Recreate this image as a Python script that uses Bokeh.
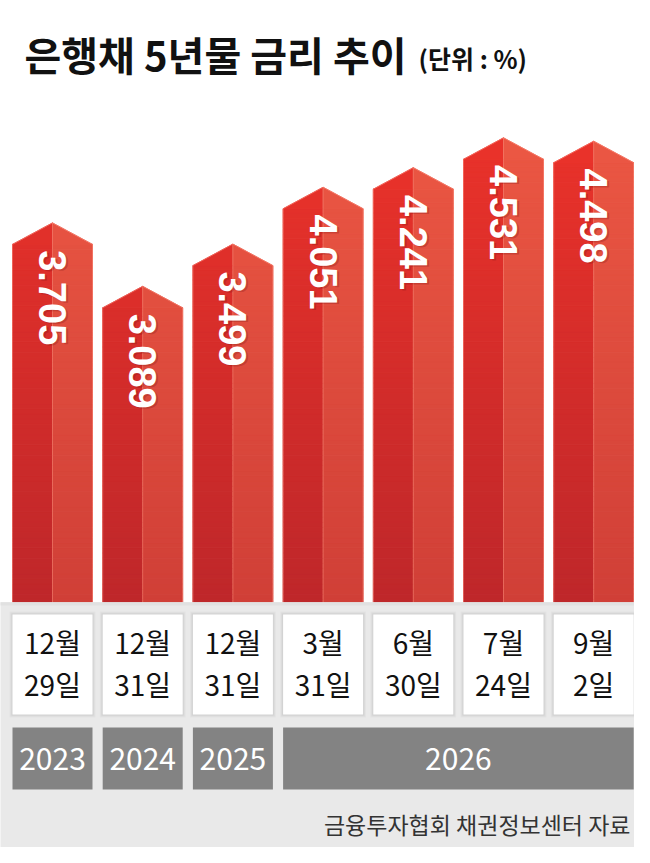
import math
from bokeh.plotting import figure
from bokeh.models import Range1d, ColumnDataSource
from bokeh.embed import file_html
from bokeh.resources import INLINE
from bokeh.core.properties import value

# ---------------- data ----------------
values = [3.705, 3.089, 3.499, 4.051, 4.241, 4.531, 4.498]
value_labels = ["3.705", "3.089", "3.499", "4.051", "4.241", "4.531", "4.498"]
months = ["12월", "12월", "12월", "3월", "6월", "7월", "9월"]
days = ["29일", "31일", "31일", "31일", "30일", "24일", "2일"]
years = ["2023", "2024", "2025", "2026"]
year_first = [0, 1, 2, 3]
year_last = [0, 1, 2, 6]
title_text = "은행채 5년물 금리 추이"
unit_text = "(단위 : %)"
source_text = "금융투자협회 채권정보센터 자료"

# ---------------- geometry ----------------
W, H = 634, 847
STEP = 90.2       # px per category
PXU = 103.0       # px per rate unit
def X(px):        # figure px -> data x
    return (px - 52.0) / STEP
def Y(py):        # figure px -> data y
    return (604.0 - py) / PXU

HW = 40.0 / STEP          # half bar width
ROOF = 21.5 / PXU         # roof height

p = figure(width=W, height=H, x_range=Range1d(X(0), X(W)),
           y_range=Range1d(Y(H), Y(0)), output_backend="svg",
           toolbar_location=None, min_border=0,
           x_axis_location=None, y_axis_location=None)
p.grid.visible = False
p.outline_line_color = None
p.background_fill_color = "white"
p.border_fill_color = "white"

# ---------------- bars with vertical gradient ----------------
L_TOP, L_BOT = (234, 50, 42), (190, 39, 42)
R_TOP, R_BOT = (235, 87, 67), (208, 63, 55)
YTOP = 4.6
def col(top, bot, y):
    t = min(max(y / YTOP, 0.0), 1.0)
    c = tuple(int(round(b + (a - b) * t)) for a, b in zip(top, bot))
    return "#%02x%02x%02x" % c

ql, qr, qb, qt, qc = [], [], [], [], []
rx, ry, rc = [], [], []
ox, oy = [], []
d = 0.05
for i, v in enumerate(values):
    s = v - ROOF
    k = 0
    while k * d < s:
        y0 = k * d
        y1 = min((k + 1) * d, s)
        ym = (y0 + y1) / 2
        ql += [i - HW, i]; qr += [i, i + HW]
        qb += [y0, y0]; qt += [y1, y1]
        qc += [col(L_TOP, L_BOT, ym), col(R_TOP, R_BOT, ym)]
        k += 1
    rx += [[i - HW, i, i], [i, i + HW, i]]
    ry += [[s, v, s], [v, s, s]]
    rc += [col(L_TOP, L_BOT, v), col(R_TOP, R_BOT, v)]
    ox.append([i - HW, i - HW, i, i + HW, i + HW])
    oy.append([0, s, v, s, 0])

p.quad(left="l", right="r", bottom="b", top="t", fill_color="c", line_color="c",
       line_width=1, source=ColumnDataSource(dict(l=ql, r=qr, b=qb, t=qt, c=qc)))
p.patches("x", "y", fill_color="c", line_color="c", line_width=1,
          source=ColumnDataSource(dict(x=rx, y=ry, c=rc)))
p.patches(ox, oy, fill_alpha=0, line_color="#ff9384", line_alpha=0.5, line_width=1)
p.segment(x0=list(range(len(values))), y0=[0] * len(values),
          x1=list(range(len(values))), y1=values,
          line_color="#f58272", line_alpha=0.6, line_width=1)

# value labels (rotated)
lx = list(range(len(values)))
ly = [v - 0.265 for v in values]
p.text(x=lx, y=ly, text=value_labels, angle=-math.pi / 2, x_offset=2, y_offset=1.5,
       text_font=value("Liberation Sans"), text_font_style="bold",
       text_font_size="38px", text_color="#7a1010", text_alpha=0.25,
       text_align="left", text_baseline="middle")
p.text(x=lx, y=ly, text=value_labels, angle=-math.pi / 2,
       text_font=value("Liberation Sans"), text_font_style="bold",
       text_font_size="38px", text_color="white",
       text_align="left", text_baseline="middle")

# ---------------- lower band ----------------
p.quad(left=[X(-20)], right=[X(680)], bottom=[Y(900)], top=[Y(601.7)],
       fill_color="#e9e9e9", line_color=None)
p.quad(left=[X(-20)], right=[X(680)], bottom=[Y(605)], top=[Y(601.7)],
       fill_color="#e1e1e1", line_color=None)

n = len(values)
for e, a in [(3, 0.025), (2, 0.03), (1, 0.04)]:
    ex, ey = e / STEP, e / PXU
    p.quad(left=[i - HW - ex for i in range(n)], right=[i + HW + ex for i in range(n)],
           top=[Y(614) + ey] * n, bottom=[Y(714) - ey] * n,
           fill_color="black", fill_alpha=a, line_color=None)
p.quad(left=[i - HW for i in range(n)], right=[i + HW for i in range(n)],
       top=[Y(614)] * n, bottom=[Y(714)] * n, fill_color="white", line_color=None)

p.text(x=list(range(n)), y=[Y(641.5)] * n, text=months,
       text_font=value("Noto Sans CJK KR"), text_font_size="28px",
       text_color="#111111", text_align="center", text_baseline="middle")
p.text(x=list(range(n)), y=[Y(683)] * n, text=days,
       text_font=value("Noto Sans CJK KR"), text_font_size="28px",
       text_color="#111111", text_align="center", text_baseline="middle")

p.quad(left=[f - HW for f in year_first], right=[l + HW for l in year_last],
       top=[Y(727)] * len(years), bottom=[Y(789)] * len(years),
       fill_color="#838383", line_color=None)
p.text(x=[(f + l) / 2 for f, l in zip(year_first, year_last)], y=[Y(758)] * len(years),
       text=years, text_font=value("Noto Sans CJK KR"), text_font_size="30px",
       text_color="white", text_align="center", text_baseline="middle")

p.text(x=[X(630)], y=[Y(823)], text=[source_text],
       text_font=value("Noto Sans CJK KR"), text_font_size="23px",
       text_color="#333333", text_align="right", text_baseline="middle")

# ---------------- title ----------------
p.text(x=[X(24)], y=[Y(53)], text=[title_text],
       text_font=value("Noto Sans CJK KR"), text_font_style="bold",
       text_font_size="40px", text_color="#111111",
       text_align="left", text_baseline="middle")
p.text(x=[X(418)], y=[Y(57)], text=[unit_text],
       text_font=value("Noto Sans CJK KR"), text_font_style="bold",
       text_font_size="25px", text_color="#111111",
       text_align="left", text_baseline="middle")

open("out.html", "w").write(file_html(p, INLINE))
